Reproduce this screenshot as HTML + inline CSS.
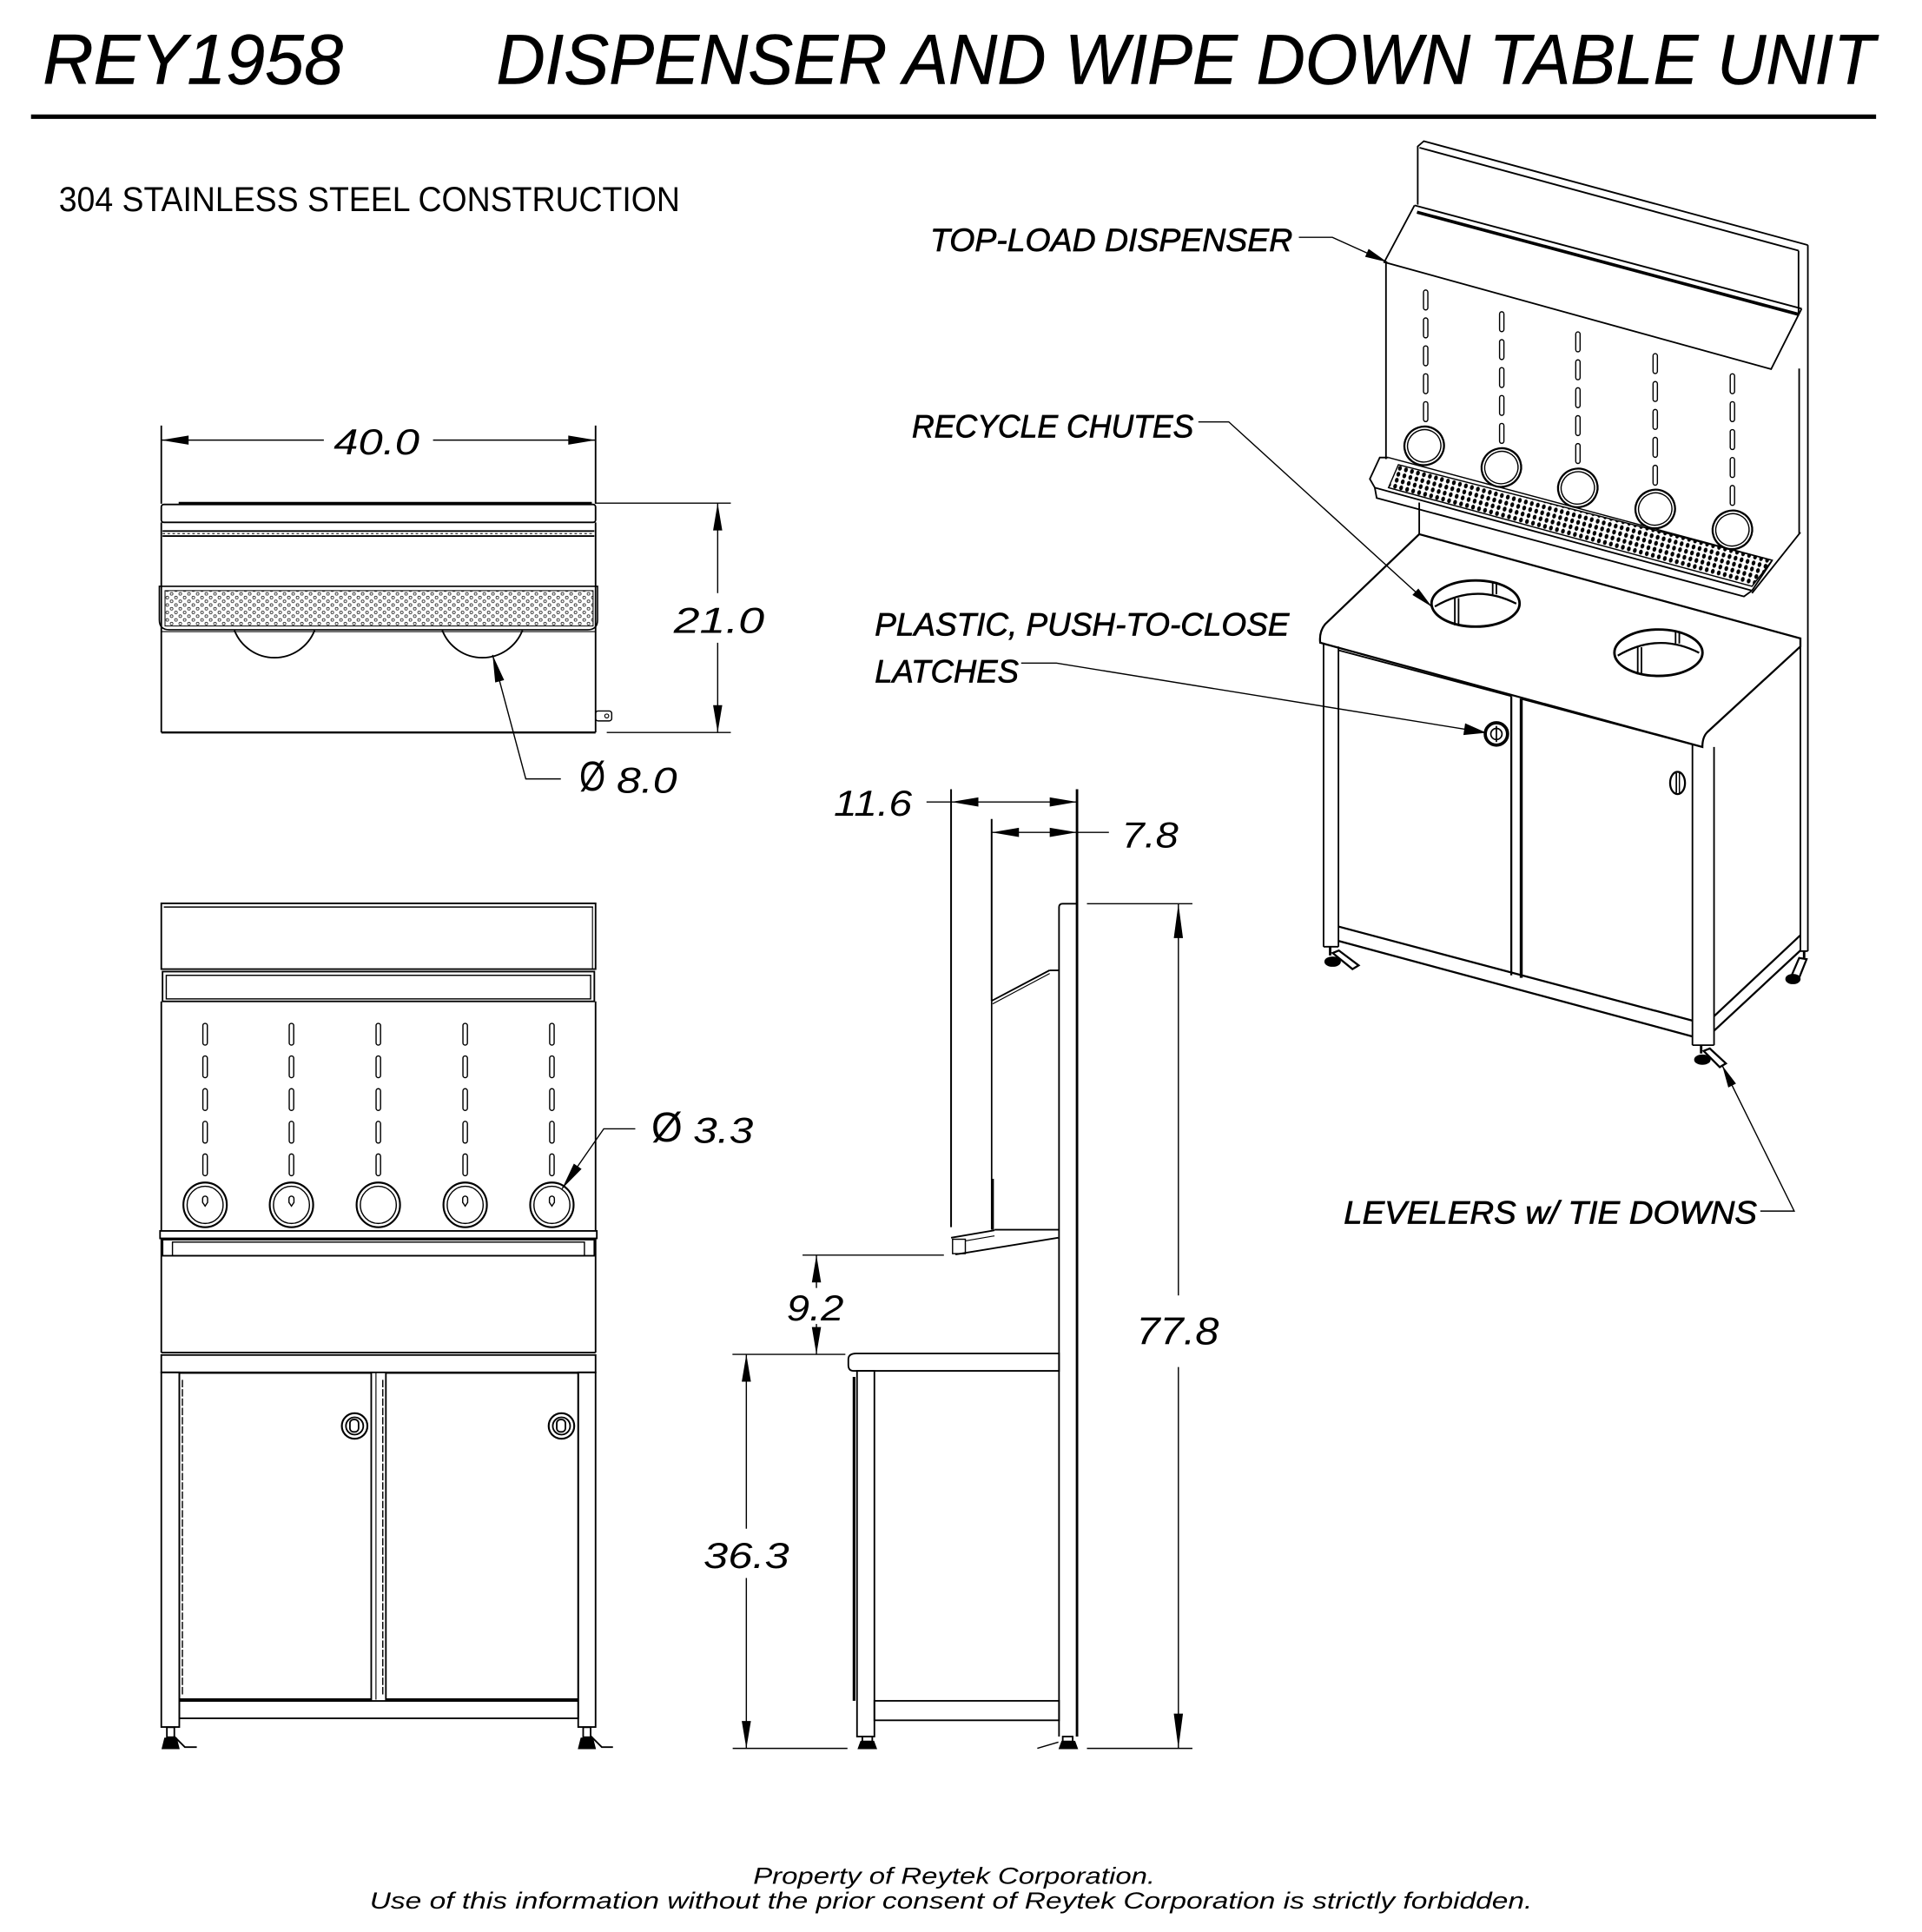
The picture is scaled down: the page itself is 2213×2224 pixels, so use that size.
<!DOCTYPE html>
<html><head><meta charset="utf-8"><style>
html,body{margin:0;padding:0;background:#fff;}
svg{display:block;}
text{font-family:"Liberation Sans",sans-serif;}
</style></head><body>
<svg width="2213" height="2224" viewBox="0 0 1549 1557" preserveAspectRatio="none" xmlns="http://www.w3.org/2000/svg">
<defs>
<pattern id="pTop" width="7" height="6" patternUnits="userSpaceOnUse">
<circle cx="1.8" cy="1.6" r="1.1" fill="none" stroke="#000" stroke-width="0.5"/>
<circle cx="5.3" cy="4.6" r="1.1" fill="none" stroke="#000" stroke-width="0.5"/>
</pattern>
<pattern id="pIso" width="5" height="5" patternUnits="userSpaceOnUse" patternTransform="rotate(15)">
<rect width="5" height="5" fill="#fff"/>
<ellipse cx="2.5" cy="2.5" rx="1.5" ry="2" fill="#000"/>
</pattern>
</defs>
<rect width="1549" height="1557" fill="#fff"/>

<!-- TITLE -->
<text x="34.5" y="67.7" font-size="57" font-style="italic" stroke="#000" stroke-width="0.4" textLength="242" lengthAdjust="spacingAndGlyphs">REY1958</text>
<text x="400" y="67.7" font-size="57" font-style="italic" stroke="#000" stroke-width="0.4" textLength="1111" lengthAdjust="spacingAndGlyphs">DISPENSER AND WIPE DOWN TABLE UNIT</text>
<line x1="25" y1="94" x2="1512" y2="94" stroke="#000" stroke-width="3.6"/>
<text x="47.4" y="170" font-size="28" textLength="500.6" lengthAdjust="spacingAndGlyphs">304 STAINLESS STEEL CONSTRUCTION</text>

<g fill="none" stroke="#000" stroke-width="1.3">
<!-- ===== TOP VIEW ===== -->
<line x1="130" y1="343" x2="130" y2="406"/>
<line x1="480" y1="343" x2="480" y2="406"/>
<line x1="130" y1="354.7" x2="261" y2="354.7" stroke-width="1"/>
<line x1="349" y1="354.7" x2="480" y2="354.7" stroke-width="1"/>
<line x1="144" y1="405.5" x2="477" y2="405.5" stroke-width="2"/>
<rect x="130" y="406.5" width="350" height="14.5" rx="2"/>
<line x1="131" y1="428" x2="479" y2="428"/>
<line x1="131" y1="432" x2="479" y2="432"/>
<line x1="131" y1="430" x2="479" y2="430" stroke-dasharray="2 2" stroke-width="0.7"/>
<line x1="130" y1="421" x2="130" y2="590.3"/>
<line x1="480" y1="421" x2="480" y2="590.3"/>
<path d="M128.4,472.5 H481.6 V499.5 Q481.6,507.5 473.6,507.5 H136.4 Q128.4,507.5 128.4,499.5 Z" stroke-width="1.1"/>
<rect x="133" y="476" width="345" height="28.5" fill="url(#pTop)" stroke-width="0.7"/>
<line x1="130" y1="509" x2="480" y2="509" stroke-width="0.8"/>
<path d="M188.95,508 A34.7,34.7 0 0 0 253.55,508"/>
<path d="M356.45,508 A34.7,34.7 0 0 0 421.05,508"/>
<line x1="130" y1="590.3" x2="480" y2="590.3" stroke-width="1.6"/>
<rect x="480" y="573" width="13" height="8" rx="2" stroke-width="1"/>
<circle cx="489" cy="577" r="1.6" stroke-width="0.8"/>
<!-- 21.0 -->
<line x1="480" y1="405.5" x2="589" y2="405.5" stroke-width="1"/>
<line x1="489" y1="590.3" x2="589" y2="590.3" stroke-width="1"/>
<line x1="578.4" y1="405.5" x2="578.4" y2="478" stroke-width="1"/>
<line x1="578.4" y1="518" x2="578.4" y2="590.3" stroke-width="1"/>
<!-- 8.0 leader -->
<polyline points="397,527.8 423.75,627.7 452,627.7" stroke-width="1"/>

<!-- ===== FRONT VIEW ===== -->
<rect x="130" y="728" width="350" height="53"/>
<line x1="132" y1="731" x2="478" y2="731" stroke-width="1"/>
<line x1="477.5" y1="731" x2="477.5" y2="781" stroke-width="0.8"/>
<rect x="131" y="783" width="348" height="24"/>
<rect x="134" y="786" width="342" height="19" stroke-width="1"/>
<line x1="130" y1="807" x2="130" y2="992"/>
<line x1="480" y1="807" x2="480" y2="992"/>
<rect x="129" y="992" width="352" height="6"/>
<rect x="131" y="999" width="348" height="13"/>
<rect x="139" y="1001" width="332" height="11" stroke-width="1"/>
<line x1="130" y1="998" x2="130" y2="1090"/>
<line x1="480" y1="998" x2="480" y2="1090"/>
<line x1="130" y1="1090" x2="480" y2="1090"/>
<rect x="130" y="1092" width="350" height="14"/>
<rect x="130" y="1106" width="14.5" height="285.8"/>
<rect x="466" y="1106" width="14" height="285.8"/>
<rect x="144.5" y="1106.5" width="154.7" height="263.2"/>
<rect x="311" y="1106.5" width="155" height="263.2"/>
<line x1="144.5" y1="1369.7" x2="299.2" y2="1369.7" stroke-width="2"/>
<line x1="311" y1="1369.7" x2="466" y2="1369.7" stroke-width="2"/>
<line x1="303" y1="1106.5" x2="303" y2="1369.7" stroke-width="0.8"/>
<line x1="147" y1="1112" x2="147" y2="1366" stroke-dasharray="6 1.5" stroke-width="1"/>
<line x1="308.5" y1="1112" x2="308.5" y2="1366" stroke-dasharray="6 1.5" stroke-width="1"/>
<rect x="144.5" y="1370.8" width="321.5" height="14"/>
<circle cx="285.8" cy="1149.2" r="10.3" stroke-width="1.5"/>
<circle cx="285.8" cy="1149.2" r="7"/>
<rect x="282" y="1144" width="7" height="10" rx="3"/>
<circle cx="452.5" cy="1149.2" r="10.3" stroke-width="1.5"/>
<circle cx="452.5" cy="1149.2" r="7"/>
<rect x="448.7" y="1144" width="7" height="10" rx="3"/>
<!-- front levelers -->
<rect x="134.5" y="1392" width="6" height="8"/>
<path d="M131,1409 L133,1401 H142 L144,1409 Z" fill="#000"/>
<polyline points="140,1399 149,1408 158.6,1408" stroke-width="1.3"/>
<rect x="470" y="1392" width="6" height="8"/>
<path d="M466.5,1409 L468.5,1401 H477.5 L479.5,1409 Z" fill="#000"/>
<polyline points="476,1399 485,1408 494,1408" stroke-width="1.3"/>
<!-- 3.3 leader -->
<polyline points="512,909.7 486.6,909.7 453,958" stroke-width="1"/>
<!-- 36.3 -->
<line x1="590.3" y1="1091.5" x2="681.3" y2="1091.5" stroke-width="1"/>
<line x1="590.5" y1="1409" x2="683" y2="1409" stroke-width="1"/>
<line x1="601.5" y1="1091.5" x2="601.5" y2="1232" stroke-width="1"/>
<line x1="601.5" y1="1271.7" x2="601.5" y2="1409" stroke-width="1"/>

<!-- ===== SIDE VIEW ===== -->
<line x1="766.5" y1="636" x2="766.5" y2="989" stroke-width="1.4"/>
<line x1="868" y1="636" x2="868" y2="1399.5" stroke-width="2"/>
<line x1="746.7" y1="646.3" x2="868" y2="646.3" stroke-width="1"/>
<line x1="799.2" y1="660" x2="799.2" y2="806.6" stroke-width="1.4"/>
<line x1="799.2" y1="670.8" x2="893.7" y2="670.8" stroke-width="1"/>
<path d="M853.5,1399.5 V731 Q853.5,728.3 856.5,728.3 H868"/>
<line x1="799.2" y1="806.6" x2="799.2" y2="991" stroke-width="1.2"/>
<line x1="800" y1="950" x2="800" y2="991" stroke-width="2"/>
<line x1="799.2" y1="806.6" x2="845.8" y2="782"/>
<line x1="800" y1="809" x2="846" y2="784.5" stroke-width="0.8"/>
<line x1="845.8" y1="782" x2="853.5" y2="782"/>
<line x1="801.5" y1="991" x2="853.5" y2="991"/>
<polyline points="766.5,997.5 801.5,991.5"/>
<rect x="767.7" y="998.7" width="10.3" height="11.6" stroke-width="1"/>
<line x1="770" y1="1011" x2="852.8" y2="997.5"/>
<line x1="778" y1="1000" x2="801.5" y2="996" stroke-width="0.8"/>
<path d="M690,1090.8 H853.5 V1104.8 H688 Q683.7,1104.8 683.7,1100 V1095.5 Q683.7,1090.8 690,1090.8 Z"/>
<rect x="690.7" y="1104.8" width="14" height="294.7"/>
<line x1="688.3" y1="1109.6" x2="688.3" y2="1370.7" stroke-width="2.2"/>
<rect x="704.7" y="1370.7" width="148.8" height="15.7"/>
<rect x="695" y="1399.5" width="8" height="4"/>
<path d="M692,1409 L694,1403.5 H704 L706,1409 Z" fill="#000"/>
<rect x="856.5" y="1399.5" width="8" height="4"/>
<path d="M854,1409 L856,1403.5 H866 L868,1409 Z" fill="#000"/>
<line x1="836" y1="1409" x2="853" y2="1404" stroke-width="1"/>
<!-- 9.2 -->
<line x1="646.8" y1="1011.5" x2="760.7" y2="1011.5" stroke-width="1"/>
<line x1="658" y1="1011.5" x2="658" y2="1038" stroke-width="1"/>
<line x1="658" y1="1067" x2="658" y2="1091.5" stroke-width="1"/>
<!-- 77.8 -->
<line x1="876" y1="728.3" x2="961" y2="728.3" stroke-width="1"/>
<line x1="876" y1="1409" x2="961" y2="1409" stroke-width="1"/>
<line x1="949.7" y1="728.3" x2="949.7" y2="1044" stroke-width="1"/>
<line x1="949.7" y1="1101.7" x2="949.7" y2="1409" stroke-width="1"/>

<!-- ===== ISO VIEW ===== -->
<polyline points="1142.6,165 1142.6,118 1147.5,113.75 1457,197.5"/>
<line x1="1144" y1="119" x2="1449.5" y2="202"/>
<line x1="1457" y1="197.5" x2="1457" y2="766.5"/>
<line x1="1449.5" y1="202" x2="1449.5" y2="252"/>
<line x1="1450" y1="297" x2="1450" y2="430"/>
<line x1="1451" y1="514.5" x2="1451" y2="766.5"/>
<line x1="1140" y1="165.5" x2="1452" y2="248.75"/>
<line x1="1142" y1="171" x2="1450" y2="253.5" stroke-width="2.6"/>
<polyline points="1140,165.5 1115.6,211.25 1427.4,297.5 1452,248.75"/>
<line x1="1117" y1="211" x2="1117" y2="370"/>
<polygon points="1127,374.5 1428.3,451.5 1412,472.5 1119,393" fill="url(#pIso)" stroke-width="1"/>
<polyline points="1119,368.7 1112,368.7 1104,386 1108,393 1412,476"/>
<polyline points="1108,393 1109.5,401.3 1405.5,480.7 1412,476"/>
<line x1="1119" y1="368.7" x2="1428.3" y2="451.5" stroke-width="1"/>
<line x1="1428.3" y1="451.5" x2="1412" y2="476"/>
<line x1="1451" y1="429" x2="1412" y2="478"/>
<line x1="1143.8" y1="405" x2="1143.8" y2="430.5"/>
<path d="M1143.8,430.5 L1451,514.5 V521 L1376,590 Q1372,594 1372,602 L1064,518 Q1063,509 1068,503 Z" stroke-width="1.6"/>
<line x1="1372" y1="602" x2="1364" y2="600"/>
<ellipse cx="1189.2" cy="486.4" rx="35.5" ry="18.6" fill="#fff" stroke-width="2"/>
<path d="M1156.4,488.8 Q1189,469.5 1222,486.5" stroke-width="1.6"/>
<line x1="1172.5" y1="482" x2="1172.5" y2="504"/><line x1="1175.5" y1="482" x2="1175.5" y2="504"/>
<line x1="1203" y1="469" x2="1203" y2="479"/><line x1="1206" y1="469" x2="1206" y2="479"/>
<ellipse cx="1336.6" cy="526" rx="35.5" ry="18.7" fill="#fff" stroke-width="2"/>
<path d="M1303.8,528.4 Q1336.4,509.1 1369.4,526.1" stroke-width="1.6"/>
<line x1="1319.9" y1="521.6" x2="1319.9" y2="543.6"/><line x1="1322.9" y1="521.6" x2="1322.9" y2="543.6"/>
<line x1="1350.4" y1="508.6" x2="1350.4" y2="518.6"/><line x1="1353.4" y1="508.6" x2="1353.4" y2="518.6"/>
<line x1="1066.7" y1="518" x2="1066.7" y2="763"/>
<line x1="1078.7" y1="521" x2="1078.7" y2="763"/>
<line x1="1078.7" y1="524" x2="1218" y2="561"/>
<line x1="1218" y1="561" x2="1218" y2="786" stroke-width="1.6"/>
<line x1="1226" y1="563" x2="1226" y2="788" stroke-width="2.4"/>
<line x1="1227" y1="563.5" x2="1364" y2="600"/>
<line x1="1364" y1="600" x2="1364" y2="842.3"/>
<line x1="1381.4" y1="602" x2="1381.4" y2="842.3"/>
<line x1="1364" y1="842.3" x2="1381.4" y2="842.3"/>
<line x1="1066.7" y1="763" x2="1078.7" y2="763"/>
<line x1="1078.7" y1="746.7" x2="1364" y2="822.5" stroke-width="1.6"/>
<line x1="1078.7" y1="758.3" x2="1364" y2="835.3" stroke-width="1.6"/>
<line x1="1381.4" y1="819" x2="1451" y2="753.7" stroke-width="1.6"/>
<line x1="1381.4" y1="830.7" x2="1451" y2="766" stroke-width="1.6"/>
<line x1="1451" y1="766.5" x2="1457" y2="766.5"/>
<circle cx="1206" cy="591.5" r="9" fill="#fff" stroke-width="2.6"/>
<circle cx="1206" cy="591.5" r="4.5" stroke-width="1.2"/>
<line x1="1206" y1="585" x2="1206" y2="598" stroke-width="1.2"/>
<ellipse cx="1352" cy="631" rx="6" ry="9" stroke-width="1.6"/>
<line x1="1351" y1="623" x2="1351" y2="639" stroke-width="1.2"/>
<line x1="1353.5" y1="623" x2="1353.5" y2="639" stroke-width="1"/>
<line x1="1072" y1="763" x2="1072" y2="770" stroke-width="2"/>
<ellipse cx="1074" cy="775" rx="6" ry="3.5" fill="#000"/>
<polygon points="1074,768 1079,766 1095,778 1090,781" fill="#fff" stroke-width="1.6"/>
<line x1="1371" y1="842.3" x2="1371" y2="849" stroke-width="2"/>
<ellipse cx="1372" cy="854" rx="6" ry="3.5" fill="#000"/>
<polygon points="1373,847 1378,845 1391,857 1386,860" fill="#fff" stroke-width="1.6"/>
<line x1="1454" y1="766.5" x2="1454" y2="772" stroke-width="2"/>
<polygon points="1450,772 1456,773 1450,788 1444,786" fill="#fff" stroke-width="1.6"/>
<ellipse cx="1445" cy="789" rx="5.5" ry="3.5" fill="#000"/>
<polyline points="1046.8,191.25 1073.8,191.25 1118,211.25" stroke-width="1"/>
<polyline points="965.8,340 990.3,340 1154,489" stroke-width="1"/>
<polyline points="823,534.4 851.4,534.4 1198,590.5" stroke-width="1"/>
<polyline points="1418.7,976 1446,976 1388,858.7" stroke-width="1"/>
</g>

<g fill="none" stroke="#000" stroke-width="1">
<rect x="1147.25" y="233.75" width="3.5" height="16" rx="1.75"/><rect x="1147.25" y="256.25" width="3.5" height="16" rx="1.75"/><rect x="1147.25" y="278.75" width="3.5" height="16" rx="1.75"/><rect x="1147.25" y="301.25" width="3.5" height="16" rx="1.75"/><rect x="1147.25" y="323.75" width="3.5" height="16" rx="1.75"/>
<rect x="1208.55" y="251.25" width="3.5" height="16" rx="1.75"/><rect x="1208.55" y="273.75" width="3.5" height="16" rx="1.75"/><rect x="1208.55" y="296.25" width="3.5" height="16" rx="1.75"/><rect x="1208.55" y="318.75" width="3.5" height="16" rx="1.75"/><rect x="1208.55" y="341.25" width="3.5" height="16" rx="1.75"/>
<rect x="1269.95" y="267.5" width="3.5" height="16" rx="1.75"/><rect x="1269.95" y="290" width="3.5" height="16" rx="1.75"/><rect x="1269.95" y="312.5" width="3.5" height="16" rx="1.75"/><rect x="1269.95" y="335" width="3.5" height="16" rx="1.75"/><rect x="1269.95" y="357.5" width="3.5" height="16" rx="1.75"/>
<rect x="1332.25" y="285" width="3.5" height="16" rx="1.75"/><rect x="1332.25" y="307.5" width="3.5" height="16" rx="1.75"/><rect x="1332.25" y="330" width="3.5" height="16" rx="1.75"/><rect x="1332.25" y="352.5" width="3.5" height="16" rx="1.75"/><rect x="1332.25" y="375" width="3.5" height="16" rx="1.75"/>
<rect x="1394.45" y="301.25" width="3.5" height="16" rx="1.75"/><rect x="1394.45" y="323.75" width="3.5" height="16" rx="1.75"/><rect x="1394.45" y="346.25" width="3.5" height="16" rx="1.75"/><rect x="1394.45" y="368.75" width="3.5" height="16" rx="1.75"/><rect x="1394.45" y="391.25" width="3.5" height="16" rx="1.75"/>
<g stroke-width="1.6" fill="#fff">
<ellipse cx="1147.8" cy="359.3" rx="16" ry="15.5" transform="rotate(-18 1147.8 359.3)"/>
<ellipse cx="1210" cy="376.8" rx="16" ry="15.5" transform="rotate(-18 1210 376.8)"/>
<ellipse cx="1271.6" cy="393.2" rx="16" ry="15.5" transform="rotate(-18 1271.6 393.2)"/>
<ellipse cx="1334" cy="410.2" rx="16" ry="15.5" transform="rotate(-18 1334 410.2)"/>
<ellipse cx="1396.2" cy="427" rx="16" ry="15.5" transform="rotate(-18 1396.2 427)"/>
</g>
<ellipse cx="1147.8" cy="359.3" rx="13.5" ry="13" transform="rotate(-18 1147.8 359.3)"/>
<ellipse cx="1210" cy="376.8" rx="13.5" ry="13" transform="rotate(-18 1210 376.8)"/>
<ellipse cx="1271.6" cy="393.2" rx="13.5" ry="13" transform="rotate(-18 1271.6 393.2)"/>
<ellipse cx="1334" cy="410.2" rx="13.5" ry="13" transform="rotate(-18 1334 410.2)"/>
<ellipse cx="1396.2" cy="427" rx="13.5" ry="13" transform="rotate(-18 1396.2 427)"/>
</g>

<g fill="none" stroke="#000" stroke-width="1">
<rect x="163.5" y="824.75" width="3.6" height="17.5" rx="1.8"/><rect x="163.5" y="851" width="3.6" height="17.5" rx="1.8"/><rect x="163.5" y="877.4" width="3.6" height="17.5" rx="1.8"/><rect x="163.5" y="903.7" width="3.6" height="17.5" rx="1.8"/><rect x="163.5" y="930" width="3.6" height="17.5" rx="1.8"/>
<rect x="233.1" y="824.75" width="3.6" height="17.5" rx="1.8"/><rect x="233.1" y="851" width="3.6" height="17.5" rx="1.8"/><rect x="233.1" y="877.4" width="3.6" height="17.5" rx="1.8"/><rect x="233.1" y="903.7" width="3.6" height="17.5" rx="1.8"/><rect x="233.1" y="930" width="3.6" height="17.5" rx="1.8"/>
<rect x="303.1" y="824.75" width="3.6" height="17.5" rx="1.8"/><rect x="303.1" y="851" width="3.6" height="17.5" rx="1.8"/><rect x="303.1" y="877.4" width="3.6" height="17.5" rx="1.8"/><rect x="303.1" y="903.7" width="3.6" height="17.5" rx="1.8"/><rect x="303.1" y="930" width="3.6" height="17.5" rx="1.8"/>
<rect x="373.1" y="824.75" width="3.6" height="17.5" rx="1.8"/><rect x="373.1" y="851" width="3.6" height="17.5" rx="1.8"/><rect x="373.1" y="877.4" width="3.6" height="17.5" rx="1.8"/><rect x="373.1" y="903.7" width="3.6" height="17.5" rx="1.8"/><rect x="373.1" y="930" width="3.6" height="17.5" rx="1.8"/>
<rect x="443" y="824.75" width="3.6" height="17.5" rx="1.8"/><rect x="443" y="851" width="3.6" height="17.5" rx="1.8"/><rect x="443" y="877.4" width="3.6" height="17.5" rx="1.8"/><rect x="443" y="903.7" width="3.6" height="17.5" rx="1.8"/><rect x="443" y="930" width="3.6" height="17.5" rx="1.8"/>
<g stroke-width="1.5">
<ellipse cx="165.3" cy="971" rx="17.5" ry="18"/><ellipse cx="234.9" cy="971" rx="17.5" ry="18"/><ellipse cx="304.9" cy="971" rx="17.5" ry="18"/><ellipse cx="374.9" cy="971" rx="17.5" ry="18"/><ellipse cx="444.8" cy="971" rx="17.5" ry="18"/>
</g>
<ellipse cx="165.3" cy="971" rx="14.5" ry="15"/><ellipse cx="234.9" cy="971" rx="14.5" ry="15"/><ellipse cx="304.9" cy="971" rx="14.5" ry="15"/><ellipse cx="374.9" cy="971" rx="14.5" ry="15"/><ellipse cx="444.8" cy="971" rx="14.5" ry="15"/>
<path d="M165.3,972 l-2,-3 v-3 a2,2 0 0 1 4,0 v3 z"/>
<path d="M234.9,972 l-2,-3 v-3 a2,2 0 0 1 4,0 v3 z"/>
<path d="M374.9,972 l-2,-3 v-3 a2,2 0 0 1 4,0 v3 z"/>
<path d="M444.8,972 l-2,-3 v-3 a2,2 0 0 1 4,0 v3 z"/>
</g>

<g fill="#000" stroke="none">
<polygon points="130,354.7 152,351 152,358.4"/>
<polygon points="480,354.7 458,351 458,358.4"/>
<polygon points="578.4,405.5 574.7,427.5 582.1,427.5"/>
<polygon points="578.4,590.3 574.7,568.3 582.1,568.3"/>
<polygon points="397,527.8 406.3,548.1 399.1,550"/>
<polygon points="453,958 468.7,942.1 462.5,937.8"/>
<polygon points="766.5,646.3 788.5,642.6 788.5,650"/>
<polygon points="868,646.3 846,642.6 846,650"/>
<polygon points="799.2,670.8 821.2,667.1 821.2,674.5"/>
<polygon points="868,670.8 846,667.1 846,674.5"/>
<polygon points="658,1011.5 654.3,1033.5 661.7,1033.5"/>
<polygon points="658,1091.5 654.3,1069.5 661.7,1069.5"/>
<polygon points="601.5,1091.5 597.8,1113.5 605.2,1113.5"/>
<polygon points="601.5,1409 597.8,1387 605.2,1387"/>
<polygon points="949.7,728.3 946,756 953.4,756"/>
<polygon points="949.7,1409 946,1381 953.4,1381"/>
<polygon points="1118,211.25 1100.2,207 1103,200.6"/>
<polygon points="1154,489 1138.3,479.5 1143.1,474.3"/>
<polygon points="1198,590.5 1179.4,592.4 1180.8,582.9"/>
<polygon points="1388,858.7 1399.1,873.3 1392.9,876.4"/>
</g>

<g font-style="italic" font-size="29" fill="#000">
<text x="269" y="366" textLength="69" lengthAdjust="spacingAndGlyphs">40.0</text>
<text x="543" y="510" textLength="73" lengthAdjust="spacingAndGlyphs">21.0</text>
<text x="497" y="639" textLength="48.6" lengthAdjust="spacingAndGlyphs">8.0</text>
<text x="558.7" y="921" textLength="48.3" lengthAdjust="spacingAndGlyphs">3.3</text>
<text x="672" y="657.5" textLength="63" lengthAdjust="spacingAndGlyphs">11.6</text>
<text x="904" y="683" textLength="45.7" lengthAdjust="spacingAndGlyphs">7.8</text>
<text x="634" y="1064" textLength="46" lengthAdjust="spacingAndGlyphs">9.2</text>
<text x="915.8" y="1083.5" font-size="31" textLength="66.5" lengthAdjust="spacingAndGlyphs">77.8</text>
<text x="567" y="1263.5" textLength="69" lengthAdjust="spacingAndGlyphs">36.3</text>
</g>
<g font-size="34" fill="#000">
<text x="467" y="637" textLength="21" lengthAdjust="spacingAndGlyphs">Ø</text>
<text x="525" y="920" textLength="25" lengthAdjust="spacingAndGlyphs">Ø</text>
</g>

<g font-style="italic" font-size="26" fill="#000" stroke="#000" stroke-width="0.5">
<text x="749.7" y="202.5" textLength="292" lengthAdjust="spacingAndGlyphs">TOP-LOAD DISPENSER</text>
<text x="735" y="352.5" textLength="227" lengthAdjust="spacingAndGlyphs">RECYCLE CHUTES</text>
<text x="705" y="512" textLength="334" lengthAdjust="spacingAndGlyphs">PLASTIC, PUSH-TO-CLOSE</text>
<text x="705" y="550" textLength="116" lengthAdjust="spacingAndGlyphs">LATCHES</text>
<text x="1083" y="986" textLength="333" lengthAdjust="spacingAndGlyphs">LEVELERS w/ TIE DOWNS</text>
</g>

<g font-style="italic" font-size="18.5" fill="#000">
<text x="607" y="1518" textLength="324" lengthAdjust="spacingAndGlyphs">Property of Reytek Corporation.</text>
<text x="298" y="1538" textLength="937" lengthAdjust="spacingAndGlyphs">Use of this information without the prior consent of Reytek Corporation is strictly forbidden.</text>
</g>
</svg>
</body></html>
